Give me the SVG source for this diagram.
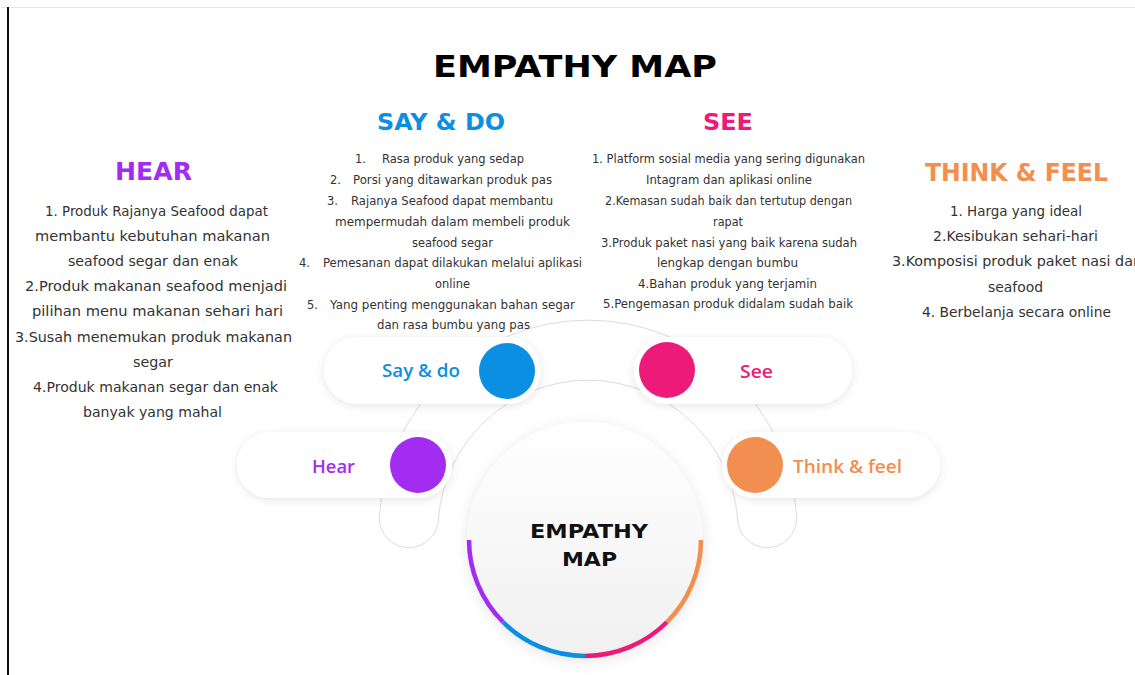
<svg xmlns="http://www.w3.org/2000/svg" width="1135" height="675" viewBox="0 0 1135 675">
  <defs>
    <filter id="pillShadow" x="-20%" y="-40%" width="140%" height="190%">
      <feDropShadow dx="0" dy="2" stdDeviation="4" flood-color="#000" flood-opacity="0.10"/>
    </filter>
    <filter id="hubShadow" x="-20%" y="-20%" width="140%" height="140%">
      <feDropShadow dx="0" dy="3" stdDeviation="7" flood-color="#000" flood-opacity="0.10"/>
    </filter>
    <linearGradient id="hubFill" x1="0" y1="0" x2="0" y2="1">
      <stop offset="0" stop-color="#ffffff"/>
      <stop offset="1" stop-color="#f0f0f0"/>
    </linearGradient>
    <style>
      .title { font-family: "DejaVu Sans", "Liberation Sans", sans-serif; font-weight: 700; }
      .body { font-family: "DejaVu Sans", "Liberation Sans", sans-serif; fill: #333333; }
      .small { font-size: 11.5px; }
      .mid { font-size: 13.5px; }
      .pill { fill: #ffffff; filter: url(#pillShadow); }
      .label { font-family: "Open Sans", "Liberation Sans", sans-serif; font-weight: 600; font-size: 18px; }
      .purple { fill: #a22cf0; }
      .blue { fill: #0b8fe2; }
      .pink { fill: #ec1a79; }
      .orange { fill: #f28e50; }
      .arc { fill: none; stroke-width: 4.5; }
    </style>
  </defs>

  <rect width="1135" height="675" fill="#ffffff"/>
  <!-- page frame -->
  <line x1="1" y1="7.5" x2="1135" y2="7.5" stroke="#e6e6e6" stroke-width="1"/>
  <line x1="8" y1="7" x2="8" y2="675" stroke="#111111" stroke-width="2"/>

  <!-- heading -->
  <text class="title" x="433" y="77" font-size="30" fill="#000" textLength="284" lengthAdjust="spacingAndGlyphs">EMPATHY MAP</text>

  <!-- curved band linking the four quadrants -->
  <g id="connectors">
    <path d="M438.5,518 A150,150 0 0 1 737.5,518 A29.6,29.6 0 0 0 796.7,518 A209,209 0 0 0 379.3,518 A29.6,29.6 0 0 0 438.5,518 Z" fill="#ffffff" stroke="#dcdcdc" stroke-width="1"/>
  </g>

  <!-- HEAR -->
  <g id="hear-text">
    <text class="title purple" x="115" y="180" font-size="24" textLength="77" lengthAdjust="spacingAndGlyphs">HEAR</text>
    <text class="body mid" x="45" y="216" textLength="223" lengthAdjust="spacingAndGlyphs">1. Produk Rajanya Seafood dapat</text>
    <text class="body mid" x="35" y="241" textLength="235" lengthAdjust="spacingAndGlyphs">membantu kebutuhan makanan</text>
    <text class="body mid" x="68" y="266" textLength="170" lengthAdjust="spacingAndGlyphs">seafood segar dan enak</text>
    <text class="body mid" x="25" y="291" textLength="262" lengthAdjust="spacingAndGlyphs">2.Produk makanan seafood menjadi</text>
    <text class="body mid" x="32" y="316" textLength="251" lengthAdjust="spacingAndGlyphs">pilihan menu makanan sehari hari</text>
    <text class="body mid" x="15" y="342" textLength="277" lengthAdjust="spacingAndGlyphs">3.Susah menemukan produk makanan</text>
    <text class="body mid" x="133" y="367" textLength="40" lengthAdjust="spacingAndGlyphs">segar</text>
    <text class="body mid" x="33" y="392" textLength="245" lengthAdjust="spacingAndGlyphs">4.Produk makanan segar dan enak</text>
    <text class="body mid" x="83" y="417" textLength="139" lengthAdjust="spacingAndGlyphs">banyak yang mahal</text>
  </g>

  <!-- SAY & DO -->
  <g id="say-do-text">
    <text class="title blue" x="377" y="130" font-size="23" textLength="128" lengthAdjust="spacingAndGlyphs">SAY &amp; DO</text>
    <text class="body small" x="355" y="163">1.</text>
    <text class="body small" x="382" y="163" textLength="142" lengthAdjust="spacingAndGlyphs">Rasa produk yang sedap</text>
    <text class="body small" x="330" y="184">2.</text>
    <text class="body small" x="353" y="184" textLength="199" lengthAdjust="spacingAndGlyphs">Porsi yang ditawarkan produk pas</text>
    <text class="body small" x="327" y="205">3.</text>
    <text class="body small" x="351" y="205" textLength="202" lengthAdjust="spacingAndGlyphs">Rajanya Seafood dapat membantu</text>
    <text class="body small" x="335" y="226" textLength="235" lengthAdjust="spacingAndGlyphs">mempermudah dalam membeli produk</text>
    <text class="body small" x="412" y="247" textLength="81" lengthAdjust="spacingAndGlyphs">seafood segar</text>
    <text class="body small" x="299" y="267">4.</text>
    <text class="body small" x="323" y="267" textLength="259" lengthAdjust="spacingAndGlyphs">Pemesanan dapat dilakukan melalui aplikasi</text>
    <text class="body small" x="435" y="288" textLength="35" lengthAdjust="spacingAndGlyphs">online</text>
    <text class="body small" x="307" y="309">5.</text>
    <text class="body small" x="330" y="309" textLength="245" lengthAdjust="spacingAndGlyphs">Yang penting menggunakan bahan segar</text>
    <text class="body small" x="377" y="329" textLength="153" lengthAdjust="spacingAndGlyphs">dan rasa bumbu yang pas</text>
  </g>

  <!-- SEE -->
  <g id="see-text">
    <text class="title pink" x="703" y="130" font-size="23" textLength="50" lengthAdjust="spacingAndGlyphs">SEE</text>
    <g text-anchor="middle">
      <text class="body small" x="728.5" y="163" textLength="273" lengthAdjust="spacingAndGlyphs">1. Platform sosial media yang sering digunakan</text>
      <text class="body small" x="729" y="184" textLength="166" lengthAdjust="spacingAndGlyphs">Intagram dan aplikasi online</text>
      <text class="body small" x="728.5" y="205" textLength="247" lengthAdjust="spacingAndGlyphs">2.Kemasan sudah baik dan tertutup dengan</text>
      <text class="body small" x="728" y="226" textLength="30" lengthAdjust="spacingAndGlyphs">rapat</text>
      <text class="body small" x="729" y="247" textLength="256" lengthAdjust="spacingAndGlyphs">3.Produk paket nasi yang baik karena sudah</text>
      <text class="body small" x="727.5" y="267" textLength="141" lengthAdjust="spacingAndGlyphs">lengkap dengan bumbu</text>
      <text class="body small" x="727.5" y="288" textLength="179" lengthAdjust="spacingAndGlyphs">4.Bahan produk yang terjamin</text>
      <text class="body small" x="728" y="308" textLength="250" lengthAdjust="spacingAndGlyphs">5.Pengemasan produk didalam sudah baik</text>
    </g>
  </g>

  <!-- THINK & FEEL -->
  <g id="think-feel-text">
    <text class="title orange" x="925" y="181" font-size="24" textLength="183" lengthAdjust="spacingAndGlyphs">THINK &amp; FEEL</text>
    <text class="body mid" x="950" y="216" textLength="132" lengthAdjust="spacingAndGlyphs">1. Harga yang ideal</text>
    <text class="body mid" x="933" y="241" textLength="165" lengthAdjust="spacingAndGlyphs">2.Kesibukan sehari-hari</text>
    <text class="body mid" x="892" y="266" textLength="250" lengthAdjust="spacingAndGlyphs">3.Komposisi produk paket nasi dan</text>
    <text class="body mid" x="988" y="292" textLength="55" lengthAdjust="spacingAndGlyphs">seafood</text>
    <text class="body mid" x="922" y="317" textLength="189" lengthAdjust="spacingAndGlyphs">4. Berbelanja secara online</text>
  </g>

  <!-- quadrant pills -->
  <g id="pill-say-do">
    <rect class="pill" x="324" y="337" width="217" height="67" rx="33.5"/>
    <circle class="blue" cx="507" cy="371" r="28"/>
    <text class="label blue" x="382" y="377" textLength="78" lengthAdjust="spacingAndGlyphs">Say &amp; do</text>
  </g>
  <g id="pill-see">
    <rect class="pill" x="634" y="337" width="218" height="67" rx="33.5"/>
    <circle class="pink" cx="667" cy="370" r="28"/>
    <text class="label pink" x="740" y="378" textLength="33" lengthAdjust="spacingAndGlyphs">See</text>
  </g>
  <g id="pill-hear">
    <rect class="pill" x="237" y="432" width="215" height="66" rx="33"/>
    <circle class="purple" cx="418" cy="465" r="28"/>
    <text class="label purple" x="312" y="473" textLength="43" lengthAdjust="spacingAndGlyphs">Hear</text>
  </g>
  <g id="pill-think-feel">
    <rect class="pill" x="722" y="432" width="218" height="66" rx="33"/>
    <circle class="orange" cx="755" cy="465" r="28"/>
    <text class="label orange" x="793" y="473" textLength="109" lengthAdjust="spacingAndGlyphs">Think &amp; feel</text>
  </g>

  <!-- central hub -->
  <g id="hub">
    <circle cx="585" cy="540" r="118" fill="url(#hubFill)" filter="url(#hubShadow)"/>
    <path class="arc" stroke="#a22cf0" d="M469,540 A116,116 0 0 0 502.98,622.02"/>
    <path class="arc" stroke="#0b8fe2" d="M502.98,622.02 A116,116 0 0 0 585,656"/>
    <path class="arc" stroke="#ec1a79" d="M585,656 A116,116 0 0 0 667.02,622.02"/>
    <path class="arc" stroke="#f28e50" d="M667.02,622.02 A116,116 0 0 0 701,540"/>
    <text class="title" x="530" y="538" font-size="20" fill="#111" textLength="118" lengthAdjust="spacingAndGlyphs">EMPATHY</text>
    <text class="title" x="562" y="566" font-size="20" fill="#111" textLength="55" lengthAdjust="spacingAndGlyphs">MAP</text>
  </g>
</svg>
